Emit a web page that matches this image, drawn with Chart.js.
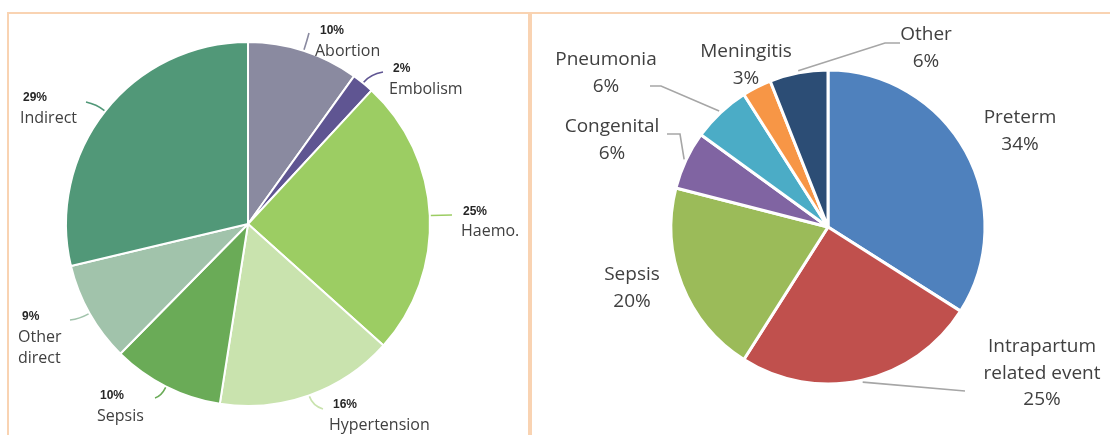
<!DOCTYPE html>
<html><head><meta charset="utf-8">
<script src="https://cdn.jsdelivr.net/npm/chart.js@4.4.0/dist/chart.umd.min.js"></script>
<style>
html,body{margin:0;padding:0;width:1110px;height:435px;overflow:hidden;background:#fff;}
.panel{position:absolute;border:2px solid #f9d3b2;box-sizing:border-box;}
#p1{left:7px;top:12px;width:523px;height:460px;}
#p2{left:530px;top:12px;width:600px;height:460px;}
canvas{position:absolute;top:0;}
#c1{left:0;}
#c2{left:530px;}
</style></head><body>
<div class="panel" id="p1"></div><div class="panel" id="p2"></div>
<canvas id="c1" width="530" height="435"></canvas>
<canvas id="c2" width="580" height="435"></canvas>
<script>
// ---- data ----
const maternalCauses = ['Abortion','Embolism','Haemo.','Hypertension','Sepsis','Other direct','Indirect'];
const maternalShares = [10, 2, 25, 16, 10, 9, 29];
const neonatalCauses = ['Preterm','Intrapartum related event','Sepsis','Congenital','Pneumonia','Meningitis','Other'];
const neonatalShares = [34, 25, 20, 6, 6, 3, 6];

// ---- styles ----
const maternalColors = ['#8a8aa0','#5f5592','#9ccd63','#c9e3ae','#6aab57','#a1c3ab','#519878'];
const neonatalColors = ['#4f81bd','#c0504d','#9bbb59','#8064a2','#4bacc6','#f79646','#2c4d75'];

// label layout (page coordinates)
const maternalLayout = [
  {pct:[320,31], name:[315,51], end:[309,33]},
  {pct:[393,69], name:[389,89], end:[383,72]},
  {pct:[463,212], name:[461,231], end:[452,215]},
  {pct:[333,405], name:[329,425], end:[323,409]},
  {pct:[100,396], name:[97,416], end:[155,398]},
  {pct:[22,317], name:[18,337], end:[70,320]},
  {pct:[23,98], name:[20,118], end:[86,102]}
];
const neonatalLayout = [
  {pos:[1020,118]},
  {pos:[1042,347], line:[[965,391]]},
  {pos:[632,275]},
  {pos:[612,127], line:[[680,134],[667,134]]},
  {pos:[606,60], line:[[661,86],[650,86]]},
  {pos:[746,52]},
  {pos:[926,35], line:[[885,43],[900,43]]}
];
const nameLines = {'Other direct':['Other','direct'], 'Intrapartum related event':['Intrapartum','related event']};

const labelPlugin = {
  id: 'pieLabels',
  afterDatasetsDraw(chart, args, opts) {
    const ctx = chart.ctx;
    const meta = chart.getDatasetMeta(0);
    const ds = chart.data.datasets[0];
    const ox = opts.offsetX;
    ctx.save();
    meta.data.forEach((arc, i) => {
      const p = arc.getProps(['x','y','startAngle','endAngle','outerRadius'], true);
      const mid = (p.startAngle + p.endAngle) / 2;
      const r = p.outerRadius;
      const cs = Math.cos(mid), sn = Math.sin(mid);
      const label = chart.data.labels[i];
      const val = ds.data[i] + '%';
      const lines = nameLines[label] || [label];
      if (opts.style === 'left') {
        const L = opts.layout[i];
        ctx.strokeStyle = ds.backgroundColor[i];
        ctx.lineWidth = 1.6;
        ctx.beginPath();
        ctx.moveTo(p.x + cs*(r+1), p.y + sn*(r+1));
        ctx.quadraticCurveTo(p.x + cs*(r+11), p.y + sn*(r+11), L.end[0]-ox, L.end[1]);
        ctx.stroke();
        ctx.textAlign = 'left';
        ctx.textBaseline = 'middle';
        ctx.fillStyle = '#262626';
        ctx.font = 'bold 12px "Liberation Sans", Arial, sans-serif';
        ctx.fillText(val, L.pct[0]-ox, L.pct[1]);
        ctx.fillStyle = '#404040';
        ctx.font = '16px "Open Sans", sans-serif';
        lines.forEach((t, k) => ctx.fillText(t, L.name[0]-ox, L.name[1] + k*21));
      } else {
        const L = opts.layout[i];
        if (L.line) {
          ctx.strokeStyle = '#a6a6a6';
          ctx.lineWidth = 1.6;
          ctx.beginPath();
          ctx.moveTo(p.x + cs*(r+2), p.y + sn*(r+2));
          L.line.forEach(pt => ctx.lineTo(pt[0]-ox, pt[1]));
          ctx.stroke();
        }
        ctx.textAlign = 'center';
        ctx.textBaseline = 'middle';
        ctx.fillStyle = '#404040';
        ctx.font = '19px "Open Sans", sans-serif';
        const all = lines.concat([val]);
        all.forEach((t, k) => ctx.fillText(t, L.pos[0]-ox, L.pos[1] + k*26.5));
      }
    });
    ctx.restore();
  }
};

function makePie(id, labels, data, colors, radius, borderW, padding, pluginOpts) {
  return new Chart(document.getElementById(id), {
    type: 'pie',
    data: { labels, datasets: [{ data, backgroundColor: colors, borderColor: '#ffffff', borderWidth: borderW }] },
    options: {
      responsive: false,
      animation: false,
      radius: radius,
      layout: { padding },
      plugins: { legend: {display:false}, tooltip: {enabled:false}, pieLabels: pluginOpts }
    },
    plugins: [labelPlugin]
  });
}

makePie('c1', maternalCauses, maternalShares, maternalColors, 182, 2,
  {left:0, right:34, top:13, bottom:0},
  {style:'left', layout: maternalLayout, offsetX: 0});
makePie('c2', neonatalCauses, neonatalShares, neonatalColors, 157, 3,
  {left:16, right:0, top:19, bottom:0},
  {style:'right', layout: neonatalLayout, offsetX: 530});
</script>
</body></html>
